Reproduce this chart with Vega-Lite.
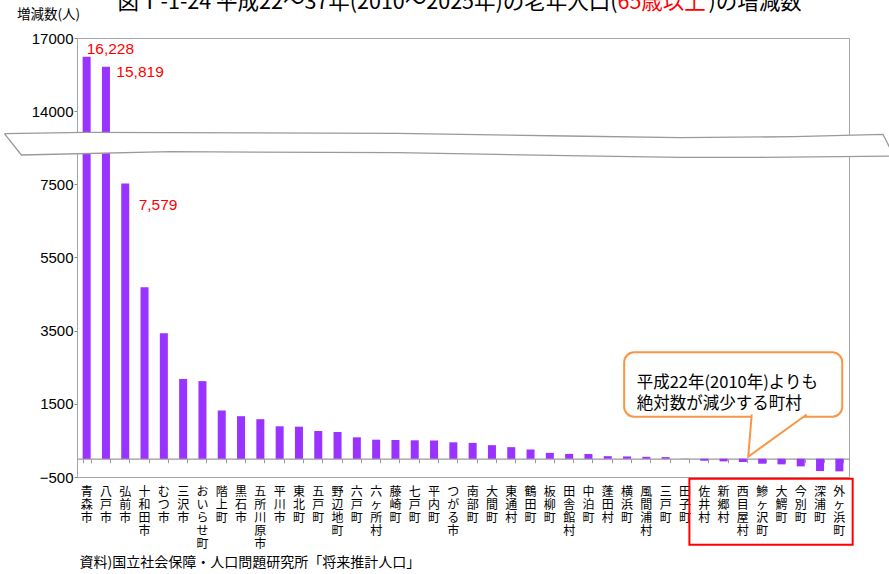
{
  "$schema": "https://vega.github.io/schema/vega-lite/v6.json",
  "autosize": {"type": "none"},
  "padding": {"left": 77, "top": 38, "right": 40, "bottom": 97},
  "width": 772,
  "height": 439,
  "config": {
    "view": {"stroke": "#a6a6a6", "strokeWidth": 1},
    "axis": {"grid": false}
  },
  "datasets": {
    "muni": [
      {"name": "青森市", "value": 16228},
      {"name": "八戸市", "value": 15819},
      {"name": "弘前市", "value": 7579},
      {"name": "十和田市", "value": 4690},
      {"name": "むつ市", "value": 3430},
      {"name": "三沢市", "value": 2180},
      {"name": "おいらせ町", "value": 2120},
      {"name": "階上町", "value": 1318},
      {"name": "黒石市", "value": 1162},
      {"name": "五所川原市", "value": 1080},
      {"name": "平川市", "value": 886},
      {"name": "東北町", "value": 875},
      {"name": "五戸町", "value": 757},
      {"name": "野辺地町", "value": 730},
      {"name": "六戸町", "value": 585},
      {"name": "六ヶ所村", "value": 520},
      {"name": "藤崎町", "value": 511},
      {"name": "七戸町", "value": 503},
      {"name": "平内町", "value": 498},
      {"name": "つがる市", "value": 448},
      {"name": "南部町", "value": 432},
      {"name": "大間町", "value": 370},
      {"name": "東通村", "value": 316},
      {"name": "鶴田町", "value": 252},
      {"name": "板柳町", "value": 160},
      {"name": "田舎館村", "value": 132},
      {"name": "中泊町", "value": 130},
      {"name": "蓬田村", "value": 70},
      {"name": "横浜町", "value": 62},
      {"name": "風間浦村", "value": 52},
      {"name": "三戸町", "value": 44},
      {"name": "田子町", "value": 5},
      {"name": "佐井村", "value": -55},
      {"name": "新郷村", "value": -73},
      {"name": "西目屋村", "value": -91},
      {"name": "鰺ヶ沢町", "value": -137},
      {"name": "大鰐町", "value": -155},
      {"name": "今別町", "value": -210},
      {"name": "深浦町", "value": -337},
      {"name": "外ヶ浜町", "value": -346}
    ],
    "wave": [
      {"k": 0, "s": -3.762, "v": 11998},
      {"k": 1, "s": 0.4325, "v": 12122},
      {"k": 2, "s": 16.59, "v": 12034},
      {"k": 3, "s": 25.39, "v": 11794},
      {"k": 4, "s": 31.25, "v": 11643},
      {"k": 5, "s": 37.15, "v": 11731},
      {"k": 6, "s": 41.76, "v": 11945},
      {"k": 7, "s": 42.33, "v": 10017},
      {"k": 8, "s": 35.39, "v": 9901},
      {"k": 9, "s": 31.25, "v": 9901},
      {"k": 10, "s": 25.39, "v": 10043},
      {"k": 11, "s": 16.59, "v": 10310},
      {"k": 12, "s": 4.834, "v": 10399},
      {"k": 13, "s": -2.882, "v": 10106},
      {"k": 14, "s": -3.762, "v": 11998}
    ],
    "pointer": [
      {"k": 0, "s": 34.96, "v": 1208},
      {"k": 1, "s": 34.78, "v": 55},
      {"k": 2, "s": 37.81, "v": 1208}
    ]
  },
  "resolve": {"scale": {"x": "independent"}},
  "layer": [
    {
      "data": {"name": "muni"},
      "resolve": {"axis": {"x": "independent"}},
      "layer": [
        {
          "mark": {"type": "bar", "color": "#9933ff"},
          "encoding": {
            "x": {
              "field": "name",
              "type": "nominal",
              "sort": null,
              "scale": {
                "domain": ["青森市", "八戸市", "弘前市", "十和田市", "むつ市", "三沢市", "おいらせ町", "階上町", "黒石市", "五所川原市", "平川市", "東北町", "五戸町", "野辺地町", "六戸町", "六ヶ所村", "藤崎町", "七戸町", "平内町", "つがる市", "南部町", "大間町", "東通村", "鶴田町", "板柳町", "田舎館村", "中泊町", "蓬田村", "横浜町", "風間浦村", "三戸町", "田子町", "佐井村", "新郷村", "西目屋村", "鰺ヶ沢町", "大鰐町", "今別町", "深浦町", "外ヶ浜町"],
                "paddingInner": 0.585,
                "paddingOuter": 0.2925
              },
              "axis": {
                "orient": "bottom",
                "labelExpr": "split(datum.label, '')",
                "labelAngle": 0,
                "labelFont": "Noto Sans CJK JP",
                "labelFontSize": 12,
                "labelLineHeight": 13,
                "labelColor": "#000000",
                "labelPadding": 9,
                "labelBaseline": "top",
                "labelAlign": "center",
                "labelOverlap": false,
                "labelBound": false,
                "ticks": false,
                "tickSize": 0,
                "domain": false,
                "title": "資料)国立社会保障・人口問題研究所「将来推計人口」",
                "titleX": 2,
                "titleY": 89,
                "titleAlign": "left",
                "titleBaseline": "alphabetic",
                "titleFont": "Noto Sans CJK JP",
                "titleFontSize": 14,
                "titleFontWeight": "normal",
                "titleColor": "#000000"
              }
            },
            "y": {
              "field": "value",
              "type": "quantitative",
              "scale": {
                "domain": [-500, 7500, 14000, 17000],
                "range": [439, 146.33, 73.17, 0],
                "nice": false,
                "zero": false
              },
              "axis": {
                "orient": "left",
                "values": [-500, 1500, 3500, 5500, 7500, 14000, 17000],
                "format": "d",
                "labelFont": "Liberation Sans",
                "labelFontSize": 15,
                "labelColor": "#000000",
                "labelPadding": 1,
                "tickSize": 3,
                "tickColor": "#888888",
                "domainColor": "#a6a6a6",
                "grid": false,
                "title": "増減数(人)",
                "titleAngle": 0,
                "titleX": -29,
                "titleY": -20,
                "titleAlign": "center",
                "titleBaseline": "alphabetic",
                "titleFont": "Noto Sans CJK JP",
                "titleFontSize": 13.5,
                "titleFontWeight": "normal",
                "titleColor": "#000000"
              }
            }
          }
        },
        {
          "mark": {"type": "point", "opacity": 0},
          "encoding": {
            "x": {
              "field": "name",
              "type": "nominal",
              "sort": null,
              "axis": {
                "orient": "bottom",
                "offset": -18.29,
                "labels": false,
                "ticks": true,
                "tickBand": "extent",
                "tickSize": 4,
                "tickColor": "#999999",
                "tickWidth": 1,
                "domain": true,
                "domainColor": "#999999",
                "domainWidth": 1.3,
                "title": null
              }
            },
            "y": {"datum": 0, "type": "quantitative"}
          }
        },
        {
          "transform": [{"filter": "datum.name === '青森市'"}],
          "mark": {"type": "text", "align": "left", "baseline": "alphabetic", "dx": 0, "dy": -3, "font": "Liberation Sans", "fontSize": 15.5, "color": "#ff0000"},
          "encoding": {
            "x": {"field": "name", "type": "nominal", "sort": null, "axis": null},
            "y": {"field": "value", "type": "quantitative"},
            "text": {"field": "value", "type": "quantitative", "format": ","}
          }
        },
        {
          "transform": [{"filter": "datum.name === '八戸市'"}],
          "mark": {"type": "text", "align": "left", "baseline": "alphabetic", "dx": 10.4, "dy": 10, "font": "Liberation Sans", "fontSize": 15.5, "color": "#ff0000"},
          "encoding": {
            "x": {"field": "name", "type": "nominal", "sort": null, "axis": null},
            "y": {"field": "value", "type": "quantitative"},
            "text": {"field": "value", "type": "quantitative", "format": ","}
          }
        },
        {
          "transform": [{"filter": "datum.name === '弘前市'"}],
          "mark": {"type": "text", "align": "left", "baseline": "alphabetic", "dx": 13.4, "dy": 26.9, "font": "Liberation Sans", "fontSize": 15.5, "color": "#ff0000"},
          "encoding": {
            "x": {"field": "name", "type": "nominal", "sort": null, "axis": null},
            "y": {"field": "value", "type": "quantitative"},
            "text": {"field": "value", "type": "quantitative", "format": ","}
          }
        }
      ]
    },
    {
      "resolve": {"axis": {"x": "independent"}},
      "layer": [
        {
          "data": {"name": "wave"},
          "mark": {"type": "line", "fill": "#ffffff", "stroke": "#9a9a9a", "strokeWidth": 1.3},
          "encoding": {
            "x": {
              "field": "s",
              "type": "quantitative",
              "scale": {"domain": [0, 40], "nice": false, "zero": false},
              "axis": {
                "orient": "top",
                "title": "図Ⅰ-1-24 平成22～37年(2010～2025年)の老年人口(",
                "titleX": 40,
                "titleY": -30,
                "titleAlign": "left",
                "titleBaseline": "alphabetic",
                "titleFont": "Noto Sans CJK JP",
                "titleFontSize": 21.5,
                "titleFontWeight": "normal",
                "titleColor": "#000000",
                "domain": false,
                "ticks": false,
                "labels": false,
                "grid": false
              }
            },
            "y": {"field": "v", "type": "quantitative"},
            "order": {"field": "k", "type": "quantitative"}
          }
        },
        {
          "data": {"values": [{}]},
          "mark": {"type": "rect", "fill": "#ffffff", "stroke": "#f79646", "strokeWidth": 2, "cornerRadius": 10},
          "encoding": {
            "x": {
              "datum": 28.35,
              "type": "quantitative",
              "axis": {
                "orient": "top",
                "title": "65歳以上",
                "titleX": 540,
                "titleY": -30,
                "titleAlign": "left",
                "titleBaseline": "alphabetic",
                "titleFont": "Noto Sans CJK JP",
                "titleFontSize": 21.5,
                "titleFontWeight": "normal",
                "titleColor": "#ff0000",
                "domain": false,
                "ticks": false,
                "labels": false,
                "grid": false
              }
            },
            "x2": {"datum": 39.65},
            "y": {"datum": 2909, "type": "quantitative"},
            "y2": {"datum": 1148}
          }
        },
        {
          "data": {"name": "pointer"},
          "mark": {"type": "line", "fill": "#ffffff", "stroke": "#f79646", "strokeWidth": 2},
          "encoding": {
            "x": {"field": "s", "type": "quantitative", "axis": null},
            "y": {"field": "v", "type": "quantitative"},
            "order": {"field": "k", "type": "quantitative"}
          }
        },
        {
          "data": {"values": [{}]},
          "mark": {
            "type": "text",
            "text": ["平成22年(2010年)よりも", "絶対数が減少する町村"],
            "align": "left",
            "baseline": "middle",
            "lineHeight": 21.6,
            "font": "Noto Sans CJK JP",
            "fontSize": 16.5,
            "color": "#000000"
          },
          "encoding": {
            "x": {"datum": 29.0, "type": "quantitative", "axis": null},
            "y": {"datum": 2083, "type": "quantitative"}
          }
        },
        {
          "data": {"values": [{}]},
          "mark": {"type": "rect", "fill": "transparent", "stroke": "#ff0000", "strokeWidth": 2},
          "encoding": {
            "x": {
              "datum": 31.73,
              "type": "quantitative",
              "axis": {
                "orient": "top",
                "title": ")の増減数",
                "titleX": 631,
                "titleY": -30,
                "titleAlign": "left",
                "titleBaseline": "alphabetic",
                "titleFont": "Noto Sans CJK JP",
                "titleFontSize": 21.5,
                "titleFontWeight": "normal",
                "titleColor": "#000000",
                "domain": false,
                "ticks": false,
                "labels": false,
                "grid": false
              }
            },
            "x2": {"datum": 40.19},
            "y": {"datum": -546, "type": "quantitative"},
            "y2": {"datum": -2350}
          }
        }
      ]
    }
  ]
}
